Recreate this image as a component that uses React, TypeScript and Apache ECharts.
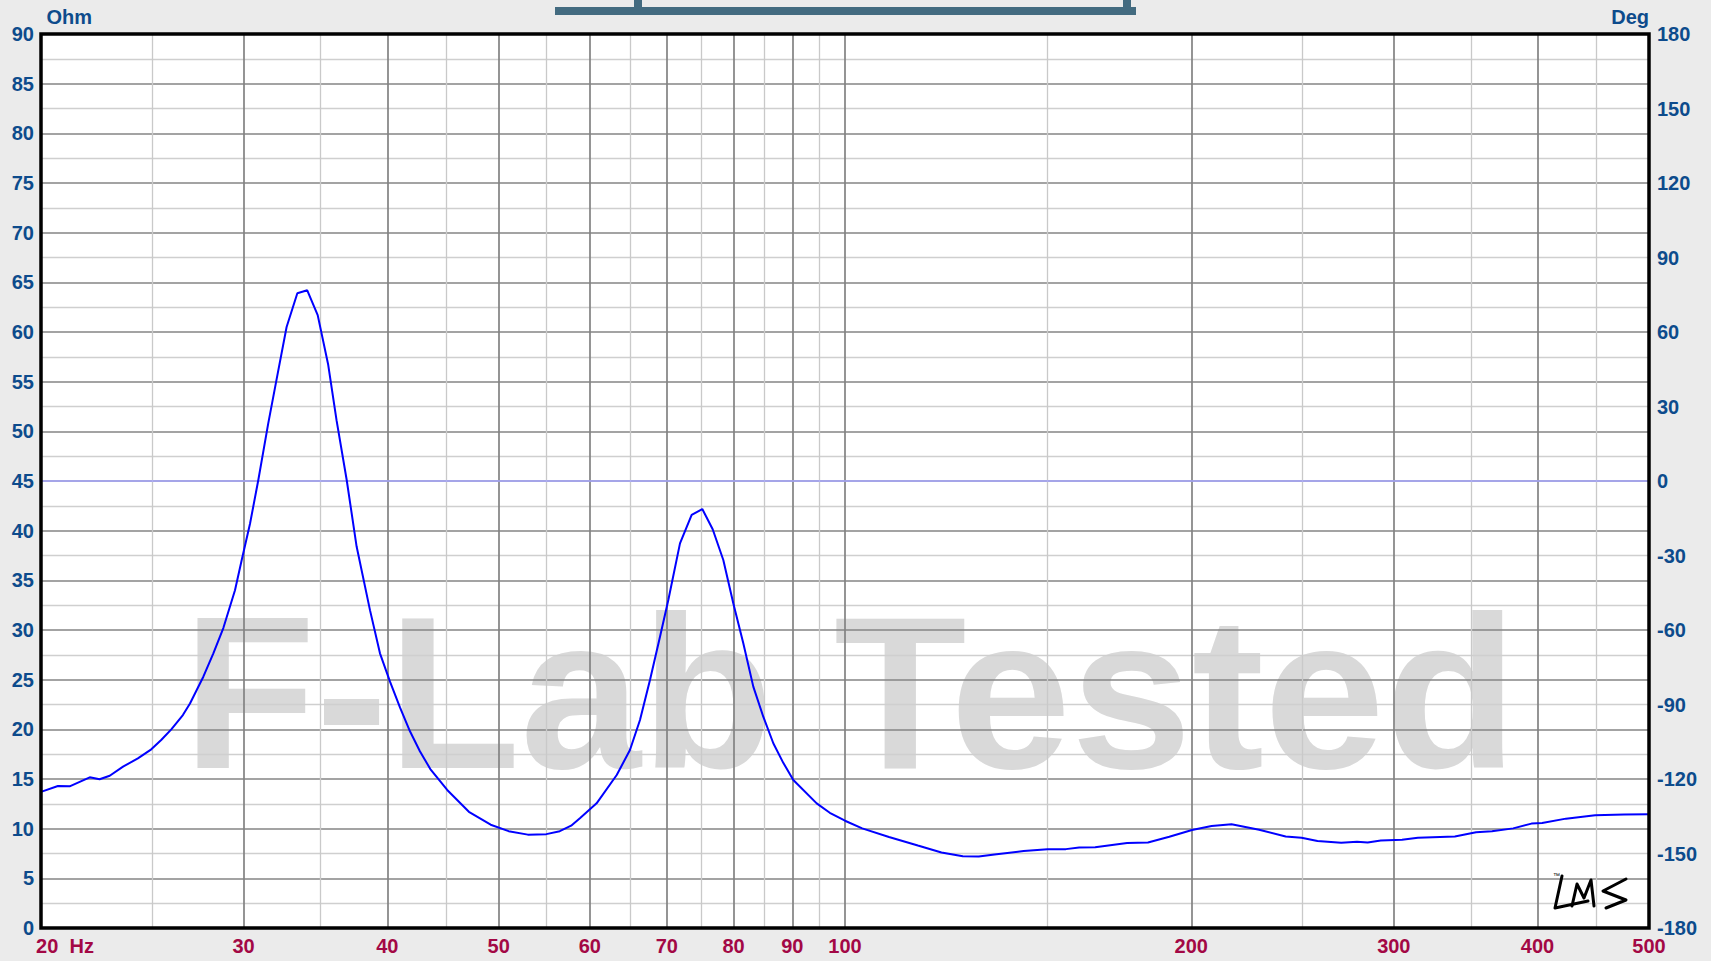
import React, { useEffect, useRef } from 'react';
import * as echarts from 'echarts';

// ---- data ----
const frequencyHz = [
  20.0, 20.69, 21.18, 22.05, 22.49, 22.95, 23.57, 24.28, 24.94, 25.44, 25.96, 26.57,
  26.95, 27.68, 28.24, 28.81, 29.49, 29.89, 30.39, 30.9, 31.52, 32.06, 32.7, 33.41,
  34.08, 34.8, 35.54, 36.14, 36.88, 37.62, 38.64, 39.42, 40.22, 41.03, 41.86, 42.7,
  43.6, 45.1, 47.1, 49.2, 51.0, 53.0, 55.0, 56.5, 57.8, 58.82, 60.82, 63.32, 65.02,
  66.34, 67.68, 69.05, 70.21, 71.87, 73.57, 75.15, 76.73, 78.38, 79.96, 81.58, 83.23,
  84.91, 86.63, 88.4, 90.17, 94.49, 97.0, 100, 103.5, 109.2, 115.7, 121.3, 126.6,
  130.7, 134.9, 143, 150, 155.6, 159.8, 165, 175.9, 183.4, 191.4, 200.3, 208.3, 216.8,
  229.1, 241.6, 249.4, 257.5, 270, 278.7, 284.7, 292.3, 305, 314.8, 339, 353.7, 365.1,
  381, 395.2, 403.7, 423.4, 448.9, 475.8, 500,
];
const impedanceOhm = [
  13.7, 14.3, 14.26, 15.17, 14.97, 15.33, 16.24, 17.08, 17.99, 18.93, 20.0, 21.44,
  22.6, 25.3, 27.65, 30.2, 34.0, 37.05, 40.7, 45.1, 50.8, 55.3, 60.5, 63.9,
  64.2, 61.7, 56.7, 51.1, 45.1, 38.4, 32.0, 27.65, 24.8, 22.2, 19.8, 17.8,
  16.0, 13.9, 11.7, 10.4, 9.75, 9.4, 9.45, 9.75, 10.3, 11.04, 12.55, 15.4, 17.92,
  20.94, 24.97, 29.33, 33.02, 38.72, 41.58, 42.18, 40.14, 37.05, 32.69, 28.66, 24.3,
  21.27, 18.6, 16.6, 14.9, 12.55, 11.6, 10.8, 10.03, 9.16, 8.3, 7.6, 7.23,
  7.2, 7.4, 7.74, 7.94, 7.94, 8.11, 8.14, 8.55, 8.61, 9.19, 9.86, 10.27, 10.44,
  9.9, 9.22, 9.09, 8.75, 8.58, 8.68, 8.61, 8.82, 8.89, 9.09, 9.22, 9.63, 9.73,
  10.03, 10.51, 10.57, 11.01, 11.35, 11.42, 11.45,
];
const majorFreqTicks = [20, 30, 40, 50, 60, 70, 80, 90, 100, 200, 300, 400, 500];
const majorFreqLabels = ['20\u00a0\u00a0Hz', '30', '40', '50', '60', '70', '80', '90', '100', '200', '300', '400', '500'];
const minorFreqTicks = [25, 35, 45, 55, 65, 75, 85, 95, 150, 250, 350, 450];
const ohmRange = [0, 90];
const ohmStep = 5;
const degRange = [-180, 180];
const degStep = 30;
const zeroPhaseOhm = 45;
const leftUnit = 'Ohm';
const rightUnit = 'Deg';
const watermarkText = 'F-Lab Tested';

const FONT = '"Liberation Sans", Arial, Helvetica, sans-serif';
const BLUE = '#0d4b8c';
const RED = '#a30845';

export default function App() {
  const ref = useRef<HTMLDivElement>(null);

  useEffect(() => {
    if (!ref.current) return;
    const chart = echarts.init(ref.current, null, { renderer: 'svg' });

    const points = frequencyHz.map((f, i) => [f, impedanceOhm[i]]);

    const labelStyle = {
      show: true,
      position: 'start',
      color: RED,
      fontWeight: 'bold',
      fontSize: 20,
      fontFamily: FONT,
      distance: 8,
    };

    const gridLines: any[] = [
      ...minorFreqTicks.map((v) => ({
        xAxis: v,
        lineStyle: { color: '#c9c9c9', width: 1.3, type: 'solid' },
        label: { show: false },
      })),
      ...majorFreqTicks.map((v, i) => ({
        xAxis: v,
        lineStyle: { color: '#828282', width: 1.7, type: 'solid' },
        label: {
          ...labelStyle,
          formatter: majorFreqLabels[i],
          padding: i === 0 ? [0, 0, 0, 48] : 0,
        },
      })),
      {
        yAxis: zeroPhaseOhm,
        lineStyle: { color: '#a6a6ff', width: 1.6, type: 'solid' },
        label: { show: false },
      },
    ];

    const lms = [
      [[1562, 876], [1555, 908], [1588, 901]],
      [[1572, 906], [1577, 884], [1584, 898], [1591, 880], [1594, 906]],
      [[1626, 879], [1603, 891], [1626, 900], [1606, 908]],
    ];

    chart.setOption({
      animation: false,
      backgroundColor: '#ebebeb',
      grid: { left: 41, right: 62, top: 34, bottom: 33, containLabel: false },
      xAxis: {
        type: 'log',
        logBase: 10,
        min: majorFreqTicks[0],
        max: majorFreqTicks[majorFreqTicks.length - 1],
        axisLabel: { show: false },
        axisTick: { show: false },
        axisLine: { show: false },
        splitLine: { show: false },
      },
      yAxis: [
        {
          type: 'value',
          min: ohmRange[0],
          max: ohmRange[1],
          interval: ohmStep,
          axisLine: { show: false },
          axisTick: { show: false },
          axisLabel: { color: BLUE, fontWeight: 'bold', fontSize: 20, fontFamily: FONT, margin: 7 },
          splitLine: { show: true, lineStyle: { color: '#858585', width: 1.6 } },
          minorTick: { show: false, splitNumber: 2 },
          minorSplitLine: { show: true, lineStyle: { color: '#cfcfcf', width: 1.3 } },
        },
        {
          type: 'value',
          position: 'right',
          min: degRange[0],
          max: degRange[1],
          interval: degStep,
          axisLine: { show: false },
          axisTick: { show: false },
          splitLine: { show: false },
          axisLabel: { color: BLUE, fontWeight: 'bold', fontSize: 20, fontFamily: FONT, margin: 8 },
        },
      ],
      series: [
        {
          name: 'grid',
          type: 'line',
          data: [[majorFreqTicks[0], ohmRange[0]]],
          symbol: 'none',
          lineStyle: { opacity: 0 },
          silent: true,
          z: 1,
          markLine: {
            silent: true,
            symbol: ['none', 'none'],
            animation: false,
            data: gridLines,
          },
        },
        {
          name: 'Impedance',
          type: 'line',
          data: points,
          symbol: 'none',
          showSymbol: false,
          lineStyle: { color: '#0000ff', width: 2 },
          z: 5,
        },
      ],
      graphic: [
        {
          type: 'rect',
          z: -10,
          silent: true,
          shape: { x: 41, y: 34, width: 1608, height: 894 },
          style: { fill: '#ffffff' },
        },
        {
          type: 'text',
          z: -9,
          silent: true,
          style: {
            text: watermarkText,
            x: 183,
            y: 693,
            align: 'left',
            verticalAlign: 'middle',
            font: `bold 217px ${FONT}`,
            fill: '#d9d9d9',
          },
        },
        {
          type: 'rect',
          z: 50,
          silent: true,
          shape: { x: 41, y: 34, width: 1608, height: 894 },
          style: { fill: 'none', stroke: '#000000', lineWidth: 3.5 },
        },
        {
          type: 'text',
          z: 50,
          style: { text: leftUnit, x: 46.5, y: 16.5, align: 'left', verticalAlign: 'middle', font: `bold 20px ${FONT}`, fill: BLUE },
        },
        {
          type: 'text',
          z: 50,
          style: { text: rightUnit, x: 1649, y: 16.5, align: 'right', verticalAlign: 'middle', font: `bold 20px ${FONT}`, fill: BLUE },
        },
        // clipped title box at the top
        { type: 'rect', z: 50, shape: { x: 555, y: 7, width: 581, height: 8 }, style: { fill: '#436b80' } },
        { type: 'rect', z: 50, shape: { x: 634, y: 0, width: 8, height: 8 }, style: { fill: '#436b80' } },
        { type: 'rect', z: 50, shape: { x: 1123, y: 0, width: 8, height: 8 }, style: { fill: '#436b80' } },
        // LMS logo
        ...lms.map((pts) => ({
          type: 'polyline',
          z: 50,
          silent: true,
          shape: { points: pts },
          style: { stroke: '#000000', lineWidth: 3, fill: 'none', lineJoin: 'round', lineCap: 'round' },
        })),
        {
          type: 'text',
          z: 50,
          style: { text: '™', x: 1553, y: 875, align: 'left', verticalAlign: 'middle', font: `7px ${FONT}`, fill: '#000' },
        },
      ],
    });

    return () => chart.dispose();
  }, []);

  return (
    <div
      ref={ref}
      style={{ position: 'fixed', left: 0, top: 0, width: 1711, height: 961 }}
    />
  );
}
